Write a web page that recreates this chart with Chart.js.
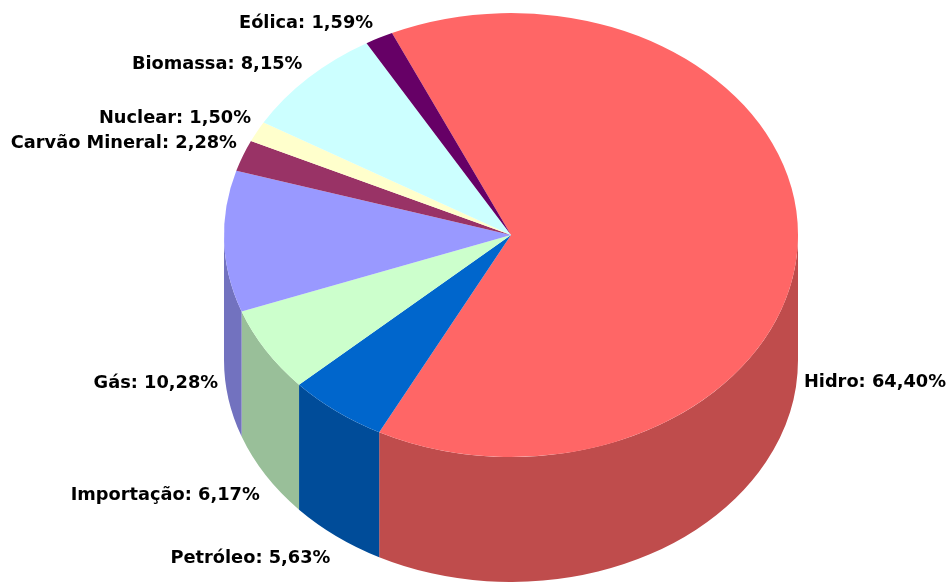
<!DOCTYPE html>
<html lang="pt">
<head>
<meta charset="utf-8">
<title>Matriz elétrica</title>
<script src="https://cdn.jsdelivr.net/npm/chart.js@4"></script>
<style>
  html, body { margin: 0; padding: 0; background: #ffffff; overflow: hidden; }
  canvas { display: block; }
</style>
</head>
<body>
<canvas id="pie" width="950" height="582"></canvas>
<script>
// Participação de cada fonte, no sentido horário a partir de Hidro
const categories = ['Hidro', 'Petróleo', 'Importação', 'Gás', 'Carvão Mineral', 'Nuclear', 'Biomassa', 'Eólica'];
const shares = [64.40, 5.63, 6.17, 10.28, 2.28, 1.50, 8.15, 1.59];
const topColors = ['#FF6666', '#0066CC', '#CCFFCC', '#9999FF', '#993366', '#FFFFCC', '#CCFFFF', '#660066'];
const wallColors = ['#BF4C4C', '#004C99', '#99BF99', '#7272BF', '#732650', '#BFBF99', '#99BFBF', '#4C004C'];

// Geometria do disco em perspectiva
const CENTER_X = 511;
const CENTER_Y = 235;
const SQUASH = 222 / 287;
const DEPTH = 125;
const LABEL_GAP_X = 6;

function percentText(v) {
  return v.toFixed(2).replace('.', ',') + '%';
}

const perspectivePie = {
  id: 'perspectivePie',
  beforeDatasetsDraw(chart) {
    const ctx = chart.ctx;
    const arcs = chart.getDatasetMeta(0).data;

    // Parede lateral: só a parte frontal do disco (ângulos de 0 a π no canvas)
    arcs.forEach((arc, i) => {
      const r = arc.outerRadius;
      for (const shift of [-2 * Math.PI, 0, 2 * Math.PI]) {
        const a0 = Math.max(arc.startAngle + shift, 0);
        const a1 = Math.min(arc.endAngle + shift, Math.PI);
        if (a1 <= a0) continue;
        ctx.beginPath();
        ctx.ellipse(CENTER_X, CENTER_Y, r, r * SQUASH, 0, a0, a1);
        ctx.ellipse(CENTER_X, CENTER_Y + DEPTH, r, r * SQUASH, 0, a1, a0, true);
        ctx.closePath();
        ctx.fillStyle = wallColors[i];
        ctx.fill();
      }
    });

    // As fatias do topo são desenhadas pela biblioteca dentro desta transformação
    const first = arcs[0];
    ctx.save();
    ctx.translate(CENTER_X, CENTER_Y);
    ctx.scale(1, SQUASH);
    ctx.translate(-first.x, -first.y);
  },
  afterDatasetsDraw(chart) {
    chart.ctx.restore();
  },
  afterDraw(chart) {
    const ctx = chart.ctx;
    const arcs = chart.getDatasetMeta(0).data;
    ctx.save();
    ctx.font = 'bold 17.8px "DejaVu Sans", Verdana, sans-serif';
    ctx.fillStyle = '#000000';
    ctx.textBaseline = 'middle';
    arcs.forEach((arc, i) => {
      const mid = (arc.startAngle + arc.endAngle) / 2;
      const r = arc.outerRadius;
      const sinMid = Math.sin(mid);
      const dx = Math.cos(mid) * r;
      const dy = sinMid * r * SQUASH;
      const x = CENTER_X + dx + (dx >= 0 ? LABEL_GAP_X : -LABEL_GAP_X);
      // Rótulos da metade frontal ficam abaixo da parede lateral
      const y = dy >= 0
        ? CENTER_Y + dy + DEPTH + 17 + 6 * sinMid
        : CENTER_Y + dy - 11 + 4 * sinMid;
      ctx.textAlign = dx >= 0 ? 'left' : 'right';
      ctx.fillText(categories[i] + ': ' + percentText(shares[i]), x, y);
    });
    ctx.restore();
  }
};

new Chart(document.getElementById('pie'), {
  type: 'pie',
  data: {
    labels: categories,
    datasets: [{
      data: shares,
      backgroundColor: topColors,
      borderWidth: 0,
      clip: false
    }]
  },
  options: {
    responsive: false,
    animation: false,
    rotation: -24.5,
    layout: { padding: 4 },
    events: [],
    plugins: { legend: { display: false }, tooltip: { enabled: false } }
  },
  plugins: [perspectivePie]
});
</script>
</body>
</html>
